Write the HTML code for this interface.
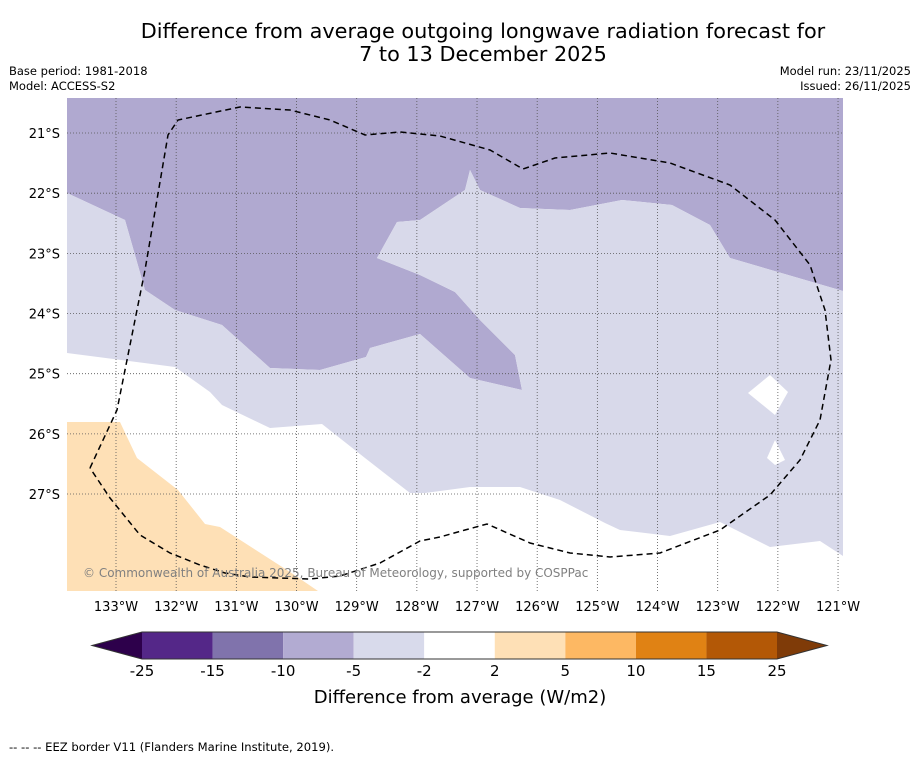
<!DOCTYPE html>
<html><head><meta charset="utf-8">
<style>
html,body{margin:0;padding:0;background:#fff;}
body{width:919px;height:758px;overflow:hidden;position:relative;font-family:"DejaVu Sans","Liberation Sans",sans-serif;}
svg text{font-family:"DejaVu Sans","Liberation Sans",sans-serif;}
</style></head>
<body>
<svg id="chart" width="919" height="758">
<text x="483" y="38" font-size="20.8" text-anchor="middle">Difference from average outgoing longwave radiation forecast for</text>
<text x="483" y="61" font-size="20.8" text-anchor="middle">7 to 13 December 2025</text>
<text x="9" y="75" font-size="11.5">Base period: 1981-2018</text>
<text x="9" y="90" font-size="11.5">Model: ACCESS-S2</text>
<text x="911" y="75" font-size="11.5" text-anchor="end">Model run: 23/11/2025</text>
<text x="911" y="90" font-size="11.5" text-anchor="end">Issued: 26/11/2025</text>
<g id="map"></g>
<g id="cbar"></g>
<text x="460" y="703" font-size="18" text-anchor="middle">Difference from average (W/m2)</text>
<text x="9" y="751" font-size="11.6">-- -- -- EEZ border V11 (Flanders Marine Institute, 2019).</text>
</svg>
<script>
const lonTicks=[133,132,131,130,129,128,127,126,125,124,123,122,121];
const latTicks=[21,22,23,24,25,26,27];
const cbLevels=["-25","-15","-10","-5","-2","2","5","10","15","25"];
const cbColors=["#542788","#8073ac","#b2abd2","#d8daeb","#ffffff","#fee0b6","#fdb863","#e08214","#b35806"];
const cbLow="#2d004b", cbHigh="#7f3b08";
// map geometry (pixel space of the map frame)
const purpleRegion=[[67,98],[843,98],[843,122],[843,291],[730,258],[710,225],[672,205],[622,200],[570,210],[520,208],[480,190],[470,170],[465,190],[420,220],[397,222],[377,258],[420,275],[455,292],[480,320],[515,355],[522,390],[470,378],[420,334],[370,348],[366,357],[320,370],[270,368],[222,325],[175,310],[145,290],[125,220],[67,193]];
const purpleSmall=[[475,425],[520,390],[548,425],[520,433]];
const lavRegion=[[67,193],[125,220],[145,290],[175,310],[222,325],[270,368],[320,370],[366,357],[370,348],[420,334],[470,378],[522,390],[515,355],[480,320],[455,292],[420,275],[377,258],[397,222],[420,220],[465,190],[470,170],[480,190],[520,208],[570,210],[622,200],[672,205],[710,225],[730,258],[843,291],[843,556],[820,541],[770,547],[720,522],[670,536],[620,530],[605,523],[560,500],[520,487],[470,487],[425,493],[410,493],[365,458],[322,424],[270,428],[222,405],[210,392],[175,367],[67,353]];
const holes=[[[748,393],[770,375],[788,392],[775,415]],[[767,458],[775,440],[785,460],[775,465]]];
const orangeRegion=[[67,422],[120,422],[137,458],[178,490],[205,524],[220,527],[290,572],[318,591],[67,591]];
const eez=[[90,468],[117,410],[145,270],[168,135],[178,120],[240,107],[290,110],[330,120],[365,135],[400,132],[440,136],[490,150],[523,169],[555,158],[610,153],[670,163],[730,185],[775,220],[810,265],[825,310],[831,360],[820,420],[800,460],[770,495],[720,530],[660,553],[610,557],[570,553],[530,543],[487,524],[465,530],[440,537],[420,541],[380,563],[340,576],[310,579],[280,578],[250,577],[225,573],[200,565],[170,553],[140,535],[110,498],[90,468]];
const NS="http://www.w3.org/2000/svg";
const X0=67,X1=843,Y0=98,Y1=591;
const xLon=l=>116+(133-l)*60.17;
const yLat=l=>133+(l-21)*60.17;
function mk(tag,attrs,parent){const e=document.createElementNS(NS,tag);for(const k in attrs)e.setAttribute(k,attrs[k]);parent.appendChild(e);return e;}
const pts=a=>a.map(p=>p.join(',')).join(' ');
const map=document.getElementById('map');
let e;
e=mk('rect',{x:X0,y:Y0,width:X1-X0,height:Y1-Y0,fill:'#ffffff'},map);


e=mk('polygon',{points:pts(purpleRegion),fill:'#b0a9d0'},map);


e=mk('polygon',{points:pts(purpleSmall),fill:'#b0a9d0'},map);


e=mk('polygon',{points:pts(lavRegion),fill:'#d8d9ea'},map);


holes.forEach(h=>{e=mk('polygon',{points:pts(h),fill:'#ffffff'},map);

});
e=mk('polygon',{points:pts(orangeRegion),fill:'#fee0b6'},map);


lonTicks.forEach(l=>{const x=xLon(l);
e=mk('line',{x1:x,x2:x,y1:Y0,y2:Y1,stroke:'#555',"stroke-width":0.8,"stroke-dasharray":"1,2"},map);


e=mk('text',{x:x,y:611,"font-size":13,"text-anchor":"middle"},map);e.textContent=l+'°W';

});
latTicks.forEach(l=>{const y=yLat(l);
e=mk('line',{x1:X0,x2:X1,y1:y,y2:y,stroke:'#555',"stroke-width":0.8,"stroke-dasharray":"1,2"},map);


e=mk('text',{x:60,y:y+5,"font-size":13,"text-anchor":"end"},map);e.textContent=l+'°S';

});
e=mk('polyline',{points:pts(eez),fill:'none',stroke:'#000',"stroke-width":1.5,"stroke-dasharray":"6,4"},map);


e=mk('text',{x:83,y:577,"font-size":12,fill:'#808080'},map);e.textContent='© Commonwealth of Australia 2025, Bureau of Meteorology, supported by COSPPac';


// colorbar
const cb=document.getElementById('cbar');
const cx0=142,cx1=777,cy0=632,cy1=659,seg=(cx1-cx0)/cbColors.length;
e=mk('polygon',{points:pts([[cx0,cy0],[cx0,cy1],[92,(cy0+cy1)/2]]),fill:cbLow},cb);


e=mk('polygon',{points:pts([[cx1,cy0],[cx1,cy1],[827,(cy0+cy1)/2]]),fill:cbHigh},cb);


cbColors.forEach((c,i)=>{e=mk('rect',{x:cx0+i*seg,y:cy0,width:seg,height:cy1-cy0,fill:c},cb);

});
e=mk('polygon',{points:pts([[92,(cy0+cy1)/2],[cx0,cy0],[cx1,cy0],[827,(cy0+cy1)/2],[cx1,cy1],[cx0,cy1]]),fill:'none',stroke:'#333',"stroke-width":1},cb);


cbLevels.forEach((t,i)=>{e=mk('text',{x:cx0+i*seg,y:676,"font-size":15,"text-anchor":"middle"},cb);e.textContent=t;

});
</script>
</body></html>
